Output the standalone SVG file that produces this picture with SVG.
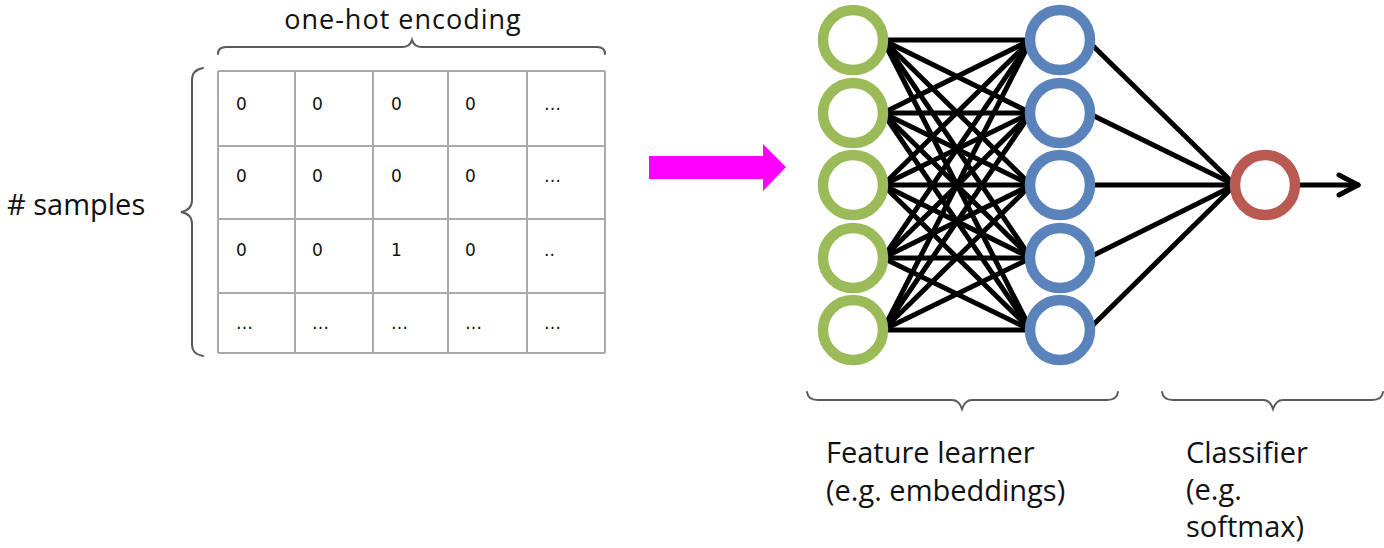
<svg xmlns="http://www.w3.org/2000/svg" width="1384" height="548" viewBox="0 0 1384 548">
<style>
.lbl{font-family:"Open Sans","Noto Sans",sans-serif;font-size:29px;fill:#111}
.title{font-family:"Open Sans","Noto Sans",sans-serif;font-size:27px;letter-spacing:1px;fill:#111}
.cell{font-family:"DejaVu Sans",sans-serif;font-size:17px;fill:#111}
.grid{stroke:#aaaaaa;stroke-width:2;fill:none}
.brace{stroke:#5a5a5a;stroke-width:2;fill:none;stroke-linecap:round}
.green{fill:none;stroke:#9BBB59;stroke-width:10.5}
.blue{fill:none;stroke:#5A82BB;stroke-width:10.5}
.red{fill:none;stroke:#B85A52;stroke-width:10.5}
.conn line{stroke:#000;stroke-width:5;stroke-linecap:round}
</style>
<rect width="1384" height="548" fill="#fff"/>

<g id="onehot-label"><text class="title" x="403" y="29" text-anchor="middle">one-hot encoding</text></g>
<g id="brace-top"><path class="brace" d="M218,54 Q218,47 226,47 L402,47 Q410,47 412,40 Q414,47 422,47 L597,47 Q605,47 605,54"/></g>
<g id="samples-label"><text class="lbl" x="7" y="215">#&#160;samples</text></g>
<g id="brace-left"><path class="brace" d="M203,68 Q192,70 192,80 L192,200 Q192,210 181,212 Q192,214 192,224 L192,345 Q192,354 203,356"/></g>

<g id="table">
<path class="grid" d="M218,71 H605 M218,146 H605 M218,219 H605 M218,293 H605 M218,353 H605 M218,71 V353 M295,71 V353 M373,71 V353 M448,71 V353 M527,71 V353 M605,71 V353"/>
<g class="cell">
<text x="236" y="110">0</text><text x="312" y="110">0</text><text x="391" y="110">0</text><text x="465" y="110">0</text><text x="544" y="110">…</text>
<text x="236" y="182">0</text><text x="312" y="182">0</text><text x="391" y="182">0</text><text x="465" y="182">0</text><text x="544" y="182">…</text>
<text x="236" y="256">0</text><text x="312" y="256">0</text><text x="391" y="256">1</text><text x="465" y="256">0</text><text x="544" y="256">..</text>
<text x="236" y="329">…</text><text x="312" y="329">…</text><text x="391" y="329">…</text><text x="465" y="329">…</text><text x="544" y="329">…</text>
</g>
</g>

<g id="big-arrow"><polygon points="649,156 763,156 763,144 786,167 763,191 763,179 649,179" fill="#FF00FF"/></g>

<g id="connectors" class="conn">
<line x1="883" y1="40" x2="1031" y2="40"/><line x1="883" y1="40" x2="1031" y2="113"/><line x1="883" y1="40" x2="1031" y2="185"/><line x1="883" y1="40" x2="1031" y2="258"/><line x1="883" y1="40" x2="1031" y2="330"/>
<line x1="883" y1="113" x2="1031" y2="40"/><line x1="883" y1="113" x2="1031" y2="113"/><line x1="883" y1="113" x2="1031" y2="185"/><line x1="883" y1="113" x2="1031" y2="258"/><line x1="883" y1="113" x2="1031" y2="330"/>
<line x1="883" y1="185" x2="1031" y2="40"/><line x1="883" y1="185" x2="1031" y2="113"/><line x1="883" y1="185" x2="1031" y2="185"/><line x1="883" y1="185" x2="1031" y2="258"/><line x1="883" y1="185" x2="1031" y2="330"/>
<line x1="883" y1="258" x2="1031" y2="40"/><line x1="883" y1="258" x2="1031" y2="113"/><line x1="883" y1="258" x2="1031" y2="185"/><line x1="883" y1="258" x2="1031" y2="258"/><line x1="883" y1="258" x2="1031" y2="330"/>
<line x1="883" y1="330" x2="1031" y2="40"/><line x1="883" y1="330" x2="1031" y2="113"/><line x1="883" y1="330" x2="1031" y2="185"/><line x1="883" y1="330" x2="1031" y2="258"/><line x1="883" y1="330" x2="1031" y2="330"/>
<line x1="1089" y1="42" x2="1235" y2="185"/><line x1="1090" y1="114" x2="1235" y2="185"/><line x1="1090" y1="185" x2="1235" y2="185"/><line x1="1090" y1="257" x2="1235" y2="185"/><line x1="1089" y1="329" x2="1235" y2="185"/>
<line x1="1296" y1="185" x2="1358" y2="185"/><line x1="1339" y1="175" x2="1358" y2="185"/><line x1="1339" y1="195" x2="1358" y2="185"/>
</g>

<g id="input-layer">
<circle id="in1" class="green" cx="853" cy="40" r="30"/>
<circle id="in2" class="green" cx="853" cy="113" r="30"/>
<circle id="in3" class="green" cx="853" cy="185" r="30"/>
<circle id="in4" class="green" cx="853" cy="258" r="30"/>
<circle id="in5" class="green" cx="853" cy="330" r="30"/>
</g>
<g id="hidden-layer">
<circle id="h1" class="blue" cx="1060" cy="40" r="30"/>
<circle id="h2" class="blue" cx="1060" cy="113" r="30"/>
<circle id="h3" class="blue" cx="1060" cy="185" r="30"/>
<circle id="h4" class="blue" cx="1060" cy="258" r="30"/>
<circle id="h5" class="blue" cx="1060" cy="330" r="30"/>
</g>
<g id="output-node"><circle class="red" cx="1265" cy="185" r="30"/></g>

<g id="brace-feature"><path class="brace" d="M807,392 Q808,400 818,400 L952,400 Q959,400 962,409 Q965,400 972,400 L1107,400 Q1117,400 1118,392"/></g>
<g id="brace-classifier"><path class="brace" d="M1162,392 Q1163,400 1173,400 L1263,400 Q1270,400 1273,409 Q1276,400 1283,400 L1372,400 Q1382,400 1383,392"/></g>

<g id="feature-label"><text class="lbl" x="826" y="463">Feature learner</text><text class="lbl" x="826" y="501">(e.g. embeddings)</text></g>
<g id="classifier-label"><text class="lbl" x="1186" y="463">Classifier</text><text class="lbl" x="1186" y="500">(e.g.</text><text class="lbl" x="1186" y="537">softmax)</text></g>
</svg>
